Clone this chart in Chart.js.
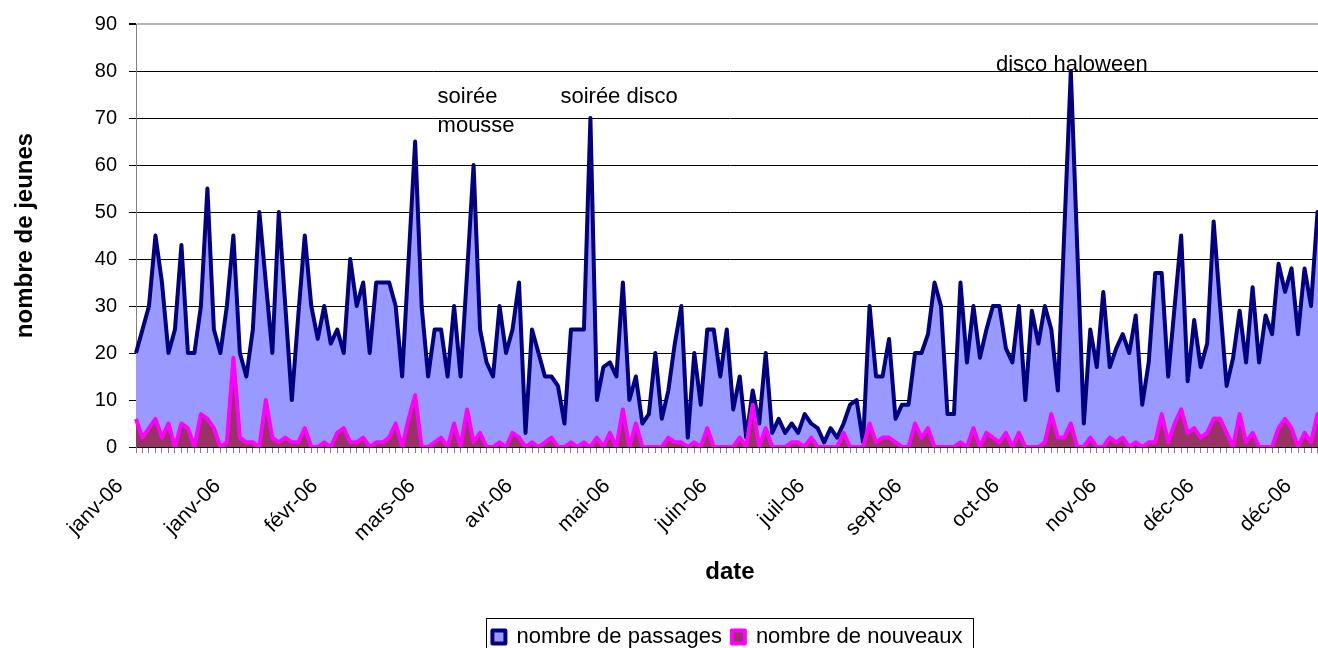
<!DOCTYPE html>
<html>
<head>
<meta charset="utf-8">
<script src="https://cdn.jsdelivr.net/npm/chart.js@4.4.1/dist/chart.umd.min.js"></script>
<style>
  html, body { margin: 0; padding: 0; background: #fff; overflow: hidden; }
  #wrap { width: 1455px; height: 660px; }
</style>
</head>
<body>
<div id="wrap"><canvas id="chart-passages" width="1455" height="660"></canvas></div>
<script>
// ─── DONNÉES ─────────────────────────────────────────────────────────────────
// Une étiquette de mois toutes les 15 séances
const tickLabels = ['janv-06', 'janv-06', 'févr-06', 'mars-06', 'avr-06', 'mai-06', 'juin-06',
  'juil-06', 'sept-06', 'oct-06', 'nov-06', 'déc-06', 'déc-06'];

const passages = [
  20, 25, 30, 45, 35, 20, 25, 43, 20, 20,
  30, 55, 25, 20, 30, 45, 20, 15, 25, 50,
  35, 20, 50, 30, 10, 28, 45, 30, 23, 30,
  22, 25, 20, 40, 30, 35, 20, 35, 35, 35,
  30, 15, 40, 65, 30, 15, 25, 25, 15, 30,
  15, 37, 60, 25, 18, 15, 30, 20, 25, 35,
  3, 25, 20, 15, 15, 13, 5, 25, 25, 25,
  70, 10, 17, 18, 15, 35, 10, 15, 5, 7,
  20, 6, 12, 22, 30, 2, 20, 9, 25, 25,
  15, 25, 8, 15, 2, 12, 5, 20, 3, 6,
  3, 5, 3, 7, 5, 4, 1, 4, 2, 5,
  9, 10, 1, 30, 15, 15, 23, 6, 9, 9,
  20, 20, 24, 35, 30, 7, 7, 35, 18, 30,
  19, 25, 30, 30, 21, 18, 30, 10, 29, 22,
  30, 25, 12, 46, 80, 42, 5, 25, 17, 33,
  17, 21, 24, 20, 28, 9, 18, 37, 37, 15,
  30, 45, 14, 27, 17, 22, 48, 30, 13, 19,
  29, 18, 34, 18, 28, 24, 39, 33, 38, 24,
  38, 30, 50, 45
];

const nouveaux = [
  6, 2, 4, 6, 2, 5, 0, 5, 4, 0,
  7, 6, 4, 0, 1, 19, 2, 1, 1, 0,
  10, 2, 1, 2, 1, 1, 4, 0, 0, 1,
  0, 3, 4, 1, 1, 2, 0, 1, 1, 2,
  5, 0, 6, 11, 0, 0, 1, 2, 0, 5,
  0, 8, 1, 3, 0, 0, 1, 0, 3, 2,
  0, 1, 0, 1, 2, 0, 0, 1, 0, 1,
  0, 2, 0, 3, 0, 8, 0, 5, 0, 0,
  0, 0, 2, 1, 1, 0, 1, 0, 4, 0,
  0, 0, 0, 2, 0, 9, 0, 4, 0, 0,
  0, 1, 1, 0, 2, 0, 0, 0, 0, 3,
  0, 0, 0, 5, 1, 2, 2, 1, 0, 0,
  5, 2, 4, 0, 0, 0, 0, 1, 0, 4,
  0, 3, 2, 1, 3, 0, 3, 0, 0, 0,
  1, 7, 2, 2, 5, 0, 0, 2, 0, 0,
  2, 1, 2, 0, 1, 0, 1, 1, 7, 1,
  5, 8, 3, 4, 2, 3, 6, 6, 3, 0,
  7, 1, 3, 0, 0, 0, 4, 6, 4, 0,
  3, 1, 7, 3
];

// Séances (une catégorie par séance)
const seances = passages.map((_, i) => i);

// Événements notés sur le graphique
const evenements = [
  { texte: ['soirée', 'mousse'], seance: 52, niveau: 74.5, align: 'left', dx: -36 },
  { texte: ['soirée disco'], seance: 70, niveau: 74.5, align: 'left', dx: -30 },
  { texte: ['disco haloween'], seance: 144, niveau: 81.3, align: 'center', dx: 1 }
];

// ─── RENDU ───────────────────────────────────────────────────────────────────
const FONT = "'Liberation Sans', Arial, sans-serif";
Chart.defaults.font.family = FONT;
Chart.defaults.color = '#000';

// textes des événements
const pluginEvenements = {
  id: 'evenements',
  afterDatasetsDraw(chart) {
    const { ctx, scales: { x, y } } = chart;
    ctx.save();
    ctx.font = '22px ' + FONT;
    ctx.fillStyle = '#000';
    ctx.textBaseline = 'middle';
    evenements.forEach(ev => {
      ctx.textAlign = ev.align;
      const px = x.getPixelForValue(ev.seance) + ev.dx;
      const py = y.getPixelForValue(ev.niveau);
      ev.texte.forEach((t, k) => ctx.fillText(t, px, py + k * 29));
    });
    ctx.restore();
  }
};

// cadre autour de la légende (style Excel)
const pluginCadreLegende = {
  id: 'cadreLegende',
  afterDraw(chart) {
    const boxes = chart.legend?.legendHitBoxes || [];
    if (!boxes.length) return;
    const { ctx } = chart;
    const left = Math.min(...boxes.map(b => b.left)) - 6;
    const right = Math.max(...boxes.map(b => b.left + b.width)) + 11;
    const top = boxes[0].top - 8;
    ctx.save();
    ctx.strokeStyle = '#000';
    ctx.lineWidth = 1;
    ctx.strokeRect(Math.round(left) + 0.5, Math.round(top) + 0.5, Math.round(right - left), 60);
    ctx.restore();
  }
};

const ctx = document.getElementById('chart-passages').getContext('2d');
new Chart(ctx, {
  type: 'line',
  data: {
    labels: seances,
    datasets: [
      { label: 'nombre de passages', data: passages, borderColor: '#000080', backgroundColor: '#9999ff',
        borderWidth: 4, fill: 'origin', tension: 0, pointRadius: 0, borderJoinStyle: 'round', order: 2 },
      { label: 'nombre de nouveaux', data: nouveaux, borderColor: '#ff00ff', backgroundColor: '#993366',
        borderWidth: 4, fill: 'origin', tension: 0, pointRadius: 0, borderJoinStyle: 'round', order: 1 }
    ]
  },
  options: {
    responsive: false,
    animation: false,
    devicePixelRatio: 1,
    layout: { padding: { top: 24, bottom: 2, left: 0, right: 0 } },
    plugins: {
      tooltip: { enabled: false },
      legend: {
        position: 'bottom',
        align: 'center',
        labels: {
          sort: (a, b) => a.datasetIndex - b.datasetIndex,
          boxWidth: 13, boxHeight: 13, padding: 10,
          color: '#000', font: { size: 22, family: FONT }
        }
      }
    },
    scales: {
      x: {
        type: 'category',
        offset: false,
        grid: { display: true, drawOnChartArea: false, drawTicks: true, tickLength: 6, color: '#808080', lineWidth: 1 },
        border: { display: true, color: '#000', width: 1 },
        ticks: {
          autoSkip: false, minRotation: 45, maxRotation: 45, padding: 21, labelOffset: -16,
          color: '#000', font: { size: 21, family: FONT },
          callback: (v, i) => (i % 15 === 0 ? tickLabels[i / 15] : '')
        },
        title: { display: true, text: 'date', color: '#000', font: { size: 24, weight: 'bold', family: FONT },
          padding: { top: 0, bottom: 29 } },
        afterFit: s => { s.height = 169; }
      },
      y: {
        min: 0, max: 90,
        ticks: { stepSize: 10, padding: 12, color: '#000', font: { size: 20, family: FONT } },
        grid: {
          color: c => (c.tick && c.tick.value === 90 ? '#b4b4b4' : '#000'),
          lineWidth: c => (c.tick && c.tick.value === 90 ? 2 : 1),
          tickLength: 7, tickColor: '#000'
        },
        border: { display: true, color: '#808080', width: 1 },
        title: { display: true, text: 'nombre de jeunes', color: '#000', font: { size: 24, weight: 'bold', family: FONT },
          padding: { top: 11, bottom: 0 } },
        afterFit: s => { s.width = 136; }
      },
      // marge droite : la zone de tracé déborde de la capture
      y2: {
        position: 'right', display: true,
        grid: { display: false }, border: { display: false }, ticks: { display: false },
        afterFit: s => { s.width = 131; }
      }
    }
  },
  plugins: [pluginEvenements, pluginCadreLegende]
});
</script>
</body>
</html>
